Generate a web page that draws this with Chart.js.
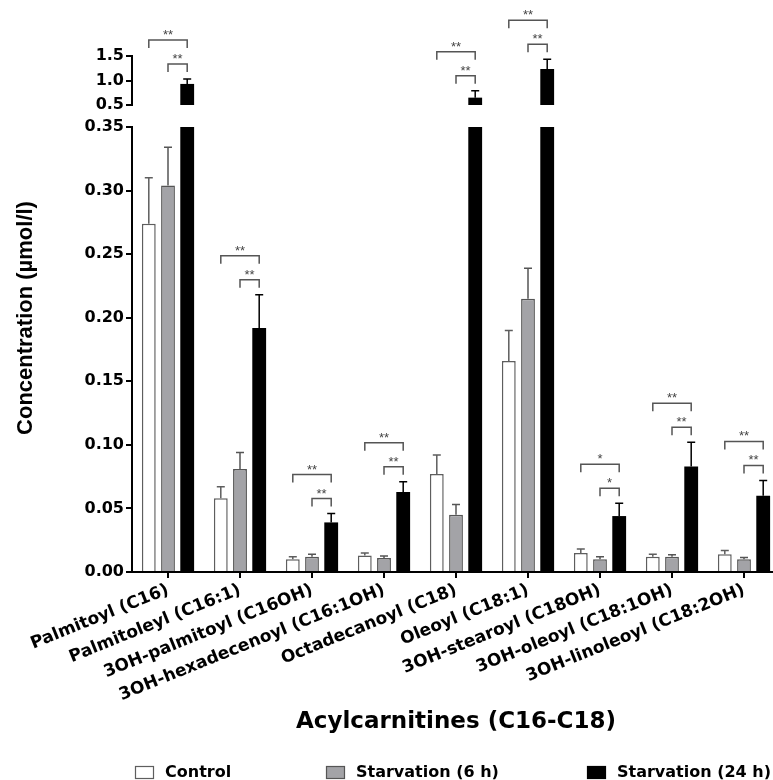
<!DOCTYPE html>
<html>
<head>
<meta charset="utf-8">
<script src="https://cdn.jsdelivr.net/npm/chart.js@4.4.0/dist/chart.umd.min.js"></script>
<style>
  html, body { margin: 0; padding: 0; background: #fff; }
  #wrap { position: relative; width: 773px; height: 780px; overflow: hidden; }
  #wrap canvas { position: absolute; left: 0; top: 0; }
</style>
</head>
<body>
<div id="wrap">
  <canvas id="chart_low" width="780" height="780"></canvas>
  <canvas id="chart_top" width="780" height="120"></canvas>
</div>
<script>
let categories = ["Palmitoyl (C16)", "Palmitoleyl (C16:1)", "3OH-palmitoyl (C16OH)", "3OH-hexadecenoyl (C16:1OH)", "Octadecanoyl (C18)", "Oleoyl (C18:1)", "3OH-stearoyl (C18OH)", "3OH-oleoyl (C18:1OH)", "3OH-linoleoyl (C18:2OH)"];

let control     = [0.274, 0.058, 0.010, 0.013, 0.077, 0.166, 0.015, 0.012, 0.014];
let controlErr  = [0.036, 0.009, 0.002, 0.002, 0.015, 0.024, 0.003, 0.002, 0.003];
let starv6      = [0.304, 0.081, 0.012, 0.011, 0.045, 0.215, 0.010, 0.012, 0.010];
let starv6Err   = [0.030, 0.013, 0.002, 0.0015, 0.008, 0.024, 0.002, 0.0015, 0.0015];
let starv24     = [0.93, 0.192, 0.039, 0.063, 0.65, 1.235, 0.044, 0.083, 0.060];
let starv24Err  = [0.10, 0.026, 0.007, 0.008, 0.14, 0.20, 0.010, 0.019, 0.012];

let sigVsControl = ["**", "**", "**", "**", "**", "**", "*", "**", "**"];
let sigVs6h      = ["**", "**", "**", "**", "**", "**", "*", "**", "**"];

let lowTicks = { min: 0, max: 0.35, step: 0.05 };
let topTicks = { min: 0.5, max: 1.5, step: 0.5 };

const FONT = "'DejaVu Sans', Verdana, sans-serif";
const TITLE_FONT = "'Liberation Sans', Arial, Helvetica, sans-serif";

function makeDatasets() {
    return [{
        label: "Control",
        data: control,
        errors: controlErr,
        backgroundColor: "#ffffff",
        borderColor: "#5e5e5e",
        borderWidth: 1.5,
        errorColor: "#5e5e5e"
    }, {
        label: "Starvation (6 h)",
        data: starv6,
        errors: starv6Err,
        backgroundColor: "#a3a3a7",
        borderColor: "#555555",
        borderWidth: 1.5,
        errorColor: "#555555"
    }, {
        label: "Starvation (24 h)",
        data: starv24,
        errors: starv24Err,
        backgroundColor: "#000000",
        borderColor: "#000000",
        borderWidth: 0,
        errorColor: "#000000"
    }];
}

// error bars (upper side only), clipped to the plot area
const errorBars = {
    id: "errorBars",
    afterDatasetsDraw(chart) {
        const ctx = chart.ctx;
        const area = chart.chartArea;
        const y = chart.scales.y;
        ctx.save();
        ctx.beginPath();
        ctx.rect(area.left, area.top - 2, area.right - area.left, area.bottom - area.top + 2);
        ctx.clip();
        chart.data.datasets.forEach((ds, d) => {
            chart.getDatasetMeta(d).data.forEach((bar, i) => {
                const base = y.getPixelForValue(ds.data[i]);
                const top = y.getPixelForValue(ds.data[i] + ds.errors[i]);
                ctx.strokeStyle = ds.errorColor;
                ctx.lineWidth = 1.5;
                ctx.beginPath();
                ctx.moveTo(bar.x, base);
                ctx.lineTo(bar.x, top);
                ctx.moveTo(bar.x - 4, top);
                ctx.lineTo(bar.x + 4, top);
                ctx.stroke();
            });
        });
        ctx.restore();
    }
};

function drawBracket(ctx, x1, x2, yb, label) {
    ctx.beginPath();
    ctx.moveTo(x1, yb + 8);
    ctx.lineTo(x1, yb);
    ctx.lineTo(x2, yb);
    ctx.lineTo(x2, yb + 8);
    ctx.stroke();
    ctx.fillText(label, (x1 + x2) / 2, yb - 1);
}

// significance brackets over the 24 h bar, drawn on whichever axis part holds its error bar
const brackets = {
    id: "brackets",
    afterDraw(chart) {
        const ctx = chart.ctx;
        const y = chart.scales.y;
        const metas = [0, 1, 2].map(d => chart.getDatasetMeta(d));
        ctx.save();
        ctx.strokeStyle = "#555";
        ctx.fillStyle = "#444";
        ctx.lineWidth = 1.5;
        ctx.font = "13px " + TITLE_FONT;
        ctx.textAlign = "center";
        ctx.textBaseline = "alphabetic";
        categories.forEach((c, i) => {
            const top = starv24[i] + starv24Err[i];
            if (top < y.min || top > y.max) return;
            const yTop = y.getPixelForValue(top);
            const xc = metas[0].data[i].x;
            const x6 = metas[1].data[i].x;
            const x24 = metas[2].data[i].x;
            drawBracket(ctx, x6, x24, yTop - 15, sigVs6h[i]);
            drawBracket(ctx, xc, x24, yTop - 39, sigVsControl[i]);
        });
        ctx.restore();
    }
};

// y title centred on the whole broken axis, and the legend row
const extras = {
    id: "extras",
    afterDraw(chart) {
        const ctx = chart.ctx;
        ctx.save();
        ctx.fillStyle = "#000";
        ctx.font = "bold 22px " + TITLE_FONT;
        ctx.textAlign = "center";
        ctx.textBaseline = "middle";
        ctx.translate(26, 318);
        ctx.rotate(-Math.PI / 2);
        ctx.fillText("Concentration (\u00b5mol/l)", 0, 0);
        ctx.restore();

        const legendX = [135, 326, 587];
        ctx.save();
        ctx.font = "bold 16px " + FONT;
        ctx.textAlign = "left";
        ctx.textBaseline = "middle";
        chart.data.datasets.forEach((ds, d) => {
            const x = legendX[d];
            ctx.fillStyle = ds.backgroundColor;
            ctx.fillRect(x, 766, 19, 13);
            ctx.strokeStyle = ds.borderColor;
            ctx.lineWidth = 1.2;
            ctx.strokeRect(x + 0.5, 766.5, 18, 12);
            ctx.fillStyle = "#000";
            ctx.fillText(ds.label, x + 30, 773);
        });
        ctx.restore();
    }
};

const yTickFont = { family: FONT, size: 16, weight: "bold" };
const xTickFont = { family: FONT, size: 17, weight: "bold" };

var ChartLow = new Chart("chart_low", {
    type: "bar",
    data: { labels: categories, datasets: makeDatasets() },
    plugins: [errorBars, brackets, extras],
    options: {
        responsive: false,
        animation: false,
        categoryPercentage: 0.8,
        barPercentage: 0.72,
        layout: { padding: { top: 127, right: 0, bottom: 40, left: 0 } },
        plugins: { legend: { display: false }, tooltip: { enabled: false } },
        scales: {
            x: {
                grid: { display: true, drawOnChartArea: false, drawTicks: true, tickLength: 6, offset: false, color: "#000", lineWidth: 2 },
                border: { display: true, color: "#000", width: 2 },
                ticks: { color: "#000", font: xTickFont, maxRotation: 22, minRotation: 22, autoSkip: false, padding: 2 },
                title: { display: true, text: "Acylcarnitines (C16-C18)", color: "#000", font: { family: FONT, size: 23, weight: "bold" }, padding: { top: 4, bottom: 4 } },
                afterFit(scale) { scale.height = 168; }
            },
            y: {
                min: lowTicks.min,
                max: lowTicks.max,
                grid: { display: true, drawOnChartArea: false, drawTicks: true, tickLength: 6, color: "#000", lineWidth: 2 },
                border: { display: true, color: "#000", width: 2 },
                ticks: { stepSize: lowTicks.step, color: "#000", font: yTickFont, padding: 2, callback: v => v.toFixed(2) },
                afterFit(scale) { scale.width = 132; }
            }
        }
    }
});

var ChartTop = new Chart("chart_top", {
    type: "bar",
    data: { labels: categories, datasets: makeDatasets() },
    plugins: [errorBars, brackets],
    options: {
        responsive: false,
        animation: false,
        categoryPercentage: 0.8,
        barPercentage: 0.72,
        layout: { padding: { top: 56, right: 0, bottom: 15, left: 0 } },
        plugins: { legend: { display: false }, tooltip: { enabled: false } },
        scales: {
            x: { display: false },
            y: {
                min: topTicks.min,
                max: topTicks.max,
                grid: { display: true, drawOnChartArea: false, drawTicks: true, tickLength: 6, color: "#000", lineWidth: 2 },
                border: { display: true, color: "#000", width: 2 },
                ticks: { stepSize: topTicks.step, color: "#000", font: yTickFont, padding: 2, callback: v => v.toFixed(1) },
                afterFit(scale) { scale.width = 132; }
            }
        }
    }
});
</script>
</body>
</html>
